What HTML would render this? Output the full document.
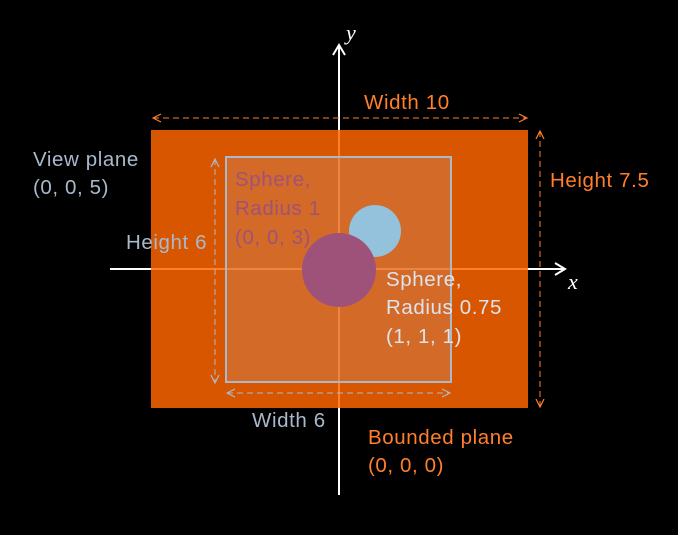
<!DOCTYPE html>
<html><head><meta charset="utf-8"><style>
body{margin:0;background:#000}
svg{display:block}
text{font-family:"Liberation Sans",sans-serif;font-size:20.5px;letter-spacing:0.6px}
</style></head><body>
<svg width="678" height="535">
<defs>
<marker id="ao" markerWidth="10" markerHeight="10" refX="9" refY="5" orient="auto-start-reverse" markerUnits="userSpaceOnUse"><path d="M1,1 L9,5 L1,9" fill="none" stroke="#ff7f2a" stroke-width="1.2"/></marker>
<marker id="ab" markerWidth="10" markerHeight="10" refX="9" refY="5" orient="auto-start-reverse" markerUnits="userSpaceOnUse"><path d="M1,1 L9,5 L1,9" fill="none" stroke="#a9b9cc" stroke-width="1.2"/></marker>
<marker id="aw" markerWidth="14" markerHeight="14" refX="12" refY="7" orient="auto" markerUnits="userSpaceOnUse"><path d="M2,1 L12,7 L2,13" fill="none" stroke="#fff" stroke-width="2"/></marker>
</defs>
<line x1="339" y1="495" x2="339" y2="45" stroke="#fff" stroke-width="2" marker-end="url(#aw)"/>
<line x1="110" y1="269" x2="565" y2="269" stroke="#fff" stroke-width="2" marker-end="url(#aw)"/>
<rect x="151" y="130" width="377" height="278" fill="#d95600"/>
<line x1="339" y1="130" x2="339" y2="408" stroke="#ff7f2a" stroke-width="2"/>
<line x1="151" y1="269" x2="528" y2="269" stroke="#ff7f2a" stroke-width="2"/>
<rect x="226" y="157" width="225" height="225" fill="#c99070" fill-opacity="0.35" stroke="#a9b9cc" stroke-width="2"/>
<circle cx="375" cy="231" r="26" fill="#94c1dc"/>
<circle cx="339" cy="270" r="37" fill="#9e527a"/>
<line x1="153" y1="118" x2="527" y2="118" stroke="#ff7f2a" stroke-dasharray="6,4" marker-start="url(#ao)" marker-end="url(#ao)"/>
<line x1="540" y1="131" x2="540" y2="407" stroke="#ff7f2a" stroke-dasharray="6,4" marker-start="url(#ao)" marker-end="url(#ao)"/>
<line x1="215" y1="159" x2="215" y2="383" stroke="#a9b9cc" stroke-dasharray="6,4" marker-start="url(#ab)" marker-end="url(#ab)"/>
<line x1="227" y1="393" x2="450" y2="393" stroke="#a9b9cc" stroke-dasharray="6,4" marker-start="url(#ab)" marker-end="url(#ab)"/>
<text x="346" y="40" fill="#fff" font-style="italic" style="font-family:'Liberation Serif',serif;font-size:22px;letter-spacing:0">y</text>
<text x="568" y="289" fill="#fff" font-style="italic" style="font-family:'Liberation Serif',serif;font-size:22px;letter-spacing:0">x</text>
<text x="364" y="109" fill="#ff7f2a">Width 10</text>
<text x="550" y="187" fill="#ff7f2a">Height 7.5</text>
<text x="33" y="166" fill="#a9b9cc">View plane</text>
<text x="33" y="194" fill="#a9b9cc">(0, 0, 5)</text>
<text x="126" y="249" fill="#a9b9cc">Height 6</text>
<text x="252" y="427" fill="#a9b9cc">Width 6</text>
<text x="235" y="186" fill="#9e527a">Sphere,</text>
<text x="235" y="215" fill="#9e527a">Radius 1</text>
<text x="235" y="244" fill="#9e527a">(0, 0, 3)</text>
<text x="386" y="286" fill="#dde4ee">Sphere,</text>
<text x="386" y="314" fill="#dde4ee">Radius 0.75</text>
<text x="386" y="343" fill="#dde4ee">(1, 1, 1)</text>
<text x="368" y="444" fill="#ff7f2a">Bounded plane</text>
<text x="368" y="472" fill="#ff7f2a">(0, 0, 0)</text>
</svg>
</body></html>
